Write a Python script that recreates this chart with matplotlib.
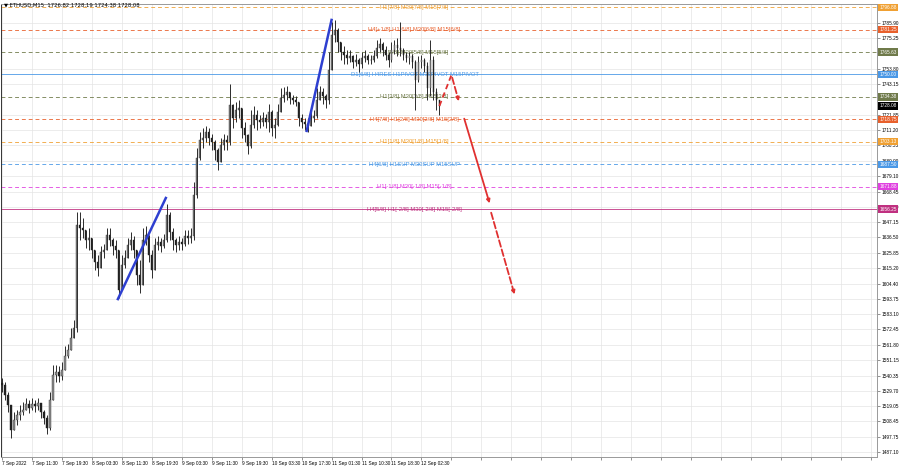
import numpy as np
import matplotlib
matplotlib.use("Agg")
import matplotlib.pyplot as plt

# ETHUSD M15 (one candle ~ 3 px of the picture)
close = [1533.7, 1526.8, 1519.8, 1502.4, 1509.4, 1512.9, 1514.9, 1516.3, 1520.5, 1517.7,
         1520.5, 1519.1, 1521.2, 1514.9, 1510.8, 1503.8, 1523.3, 1540.7, 1542.8, 1540.0,
         1544.2, 1553.9, 1558.1, 1566.5, 1573.4, 1645.2, 1643.1, 1641.7, 1634.7, 1636.1,
         1627.8, 1619.4, 1615.2, 1626.4, 1627.8, 1638.2, 1634.7, 1630.6, 1627.8, 1599.9,
         1617.3, 1622.2, 1631.3, 1634.7, 1627.8, 1610.4, 1603.4, 1634.7, 1638.2, 1624.3,
         1613.8, 1631.3, 1633.3, 1630.6, 1634.7, 1652.2, 1640.3, 1634.7, 1631.3, 1633.3,
         1632.0, 1637.5, 1636.1, 1637.5, 1666.1, 1691.9, 1704.4, 1705.8, 1710.0, 1705.8,
         1703.0, 1697.4, 1689.1, 1700.9, 1704.4, 1703.0, 1728.8, 1719.7, 1725.3, 1726.7,
         1712.7, 1707.9, 1700.2, 1714.8, 1721.8, 1718.3, 1716.9, 1719.7, 1716.9, 1723.9,
         1712.7, 1714.8, 1723.9, 1733.6, 1735.7, 1737.8, 1733.6, 1732.3, 1730.9, 1719.7,
         1716.9, 1715.5, 1714.1, 1719.7, 1721.1, 1732.3, 1737.8, 1735.0, 1732.3, 1753.1,
         1777.5, 1781.0, 1772.6, 1765.7, 1763.6, 1761.5, 1762.9, 1758.7, 1760.1, 1757.3,
         1761.5, 1762.9, 1760.1, 1760.1, 1762.9, 1768.5, 1771.3, 1767.1, 1763.6, 1760.1,
         1767.1, 1770.6, 1768.5, 1767.1, 1763.6, 1761.5, 1762.9, 1758.7, 1746.2, 1758.7,
         1760.1, 1755.9, 1740.6, 1760.1, 1737.8, 1732.3, 1728.08]
high = [1538.6, 1535.8, 1528.9, 1519.8, 1514.9, 1516.3, 1519.8, 1521.9, 1524.7, 1523.3,
        1524.7, 1523.3, 1524.7, 1520.5, 1516.3, 1512.9, 1528.9, 1547.7, 1547.7, 1547.0,
        1549.8, 1560.9, 1562.3, 1573.4, 1579.0, 1654.2, 1654.2, 1650.1, 1641.7, 1643.1,
        1634.7, 1627.8, 1624.3, 1630.6, 1632.0, 1643.1, 1643.1, 1636.1, 1634.7, 1617.3,
        1624.3, 1627.8, 1636.1, 1640.3, 1637.5, 1627.8, 1620.8, 1643.1, 1644.5, 1634.7,
        1627.8, 1636.1, 1637.5, 1636.1, 1638.9, 1659.8, 1654.2, 1643.1, 1636.1, 1637.5,
        1636.1, 1641.7, 1641.7, 1643.1, 1675.1, 1698.8, 1710.0, 1712.7, 1714.1, 1712.7,
        1708.6, 1704.4, 1698.8, 1705.8, 1708.6, 1707.9, 1743.4, 1729.5, 1730.9, 1732.3,
        1723.9, 1716.9, 1708.6, 1725.3, 1728.1, 1725.3, 1721.8, 1723.9, 1722.5, 1729.5,
        1725.3, 1719.7, 1729.5, 1740.6, 1741.3, 1742.0, 1737.8, 1735.7, 1735.0, 1730.9,
        1722.5, 1719.7, 1719.7, 1723.9, 1725.3, 1740.6, 1742.0, 1740.6, 1736.4, 1765.7,
        1786.6, 1788.0, 1782.4, 1772.6, 1769.9, 1767.1, 1767.1, 1763.6, 1764.3, 1761.5,
        1765.7, 1767.1, 1764.3, 1763.6, 1767.1, 1774.0, 1775.4, 1772.6, 1769.9, 1765.7,
        1772.6, 1774.0, 1775.4, 1786.6, 1768.5, 1765.7, 1765.7, 1764.3, 1760.1, 1762.9,
        1763.6, 1761.5, 1758.7, 1774.0, 1762.9, 1740.6, 1730.9]
low = [1528.9, 1523.3, 1514.9, 1496.8, 1503.8, 1505.9, 1509.4, 1512.9, 1516.3, 1514.2,
       1516.3, 1514.9, 1516.3, 1510.8, 1506.6, 1499.6, 1502.4, 1526.8, 1535.8, 1535.8,
       1537.2, 1545.6, 1552.6, 1559.5, 1566.5, 1570.7, 1634.7, 1636.1, 1629.2, 1627.8,
       1622.2, 1613.8, 1609.7, 1619.4, 1622.2, 1627.8, 1630.6, 1624.3, 1622.2, 1594.3,
       1599.9, 1615.2, 1622.2, 1627.8, 1622.2, 1603.4, 1597.8, 1606.9, 1631.3, 1619.4,
       1608.3, 1617.3, 1627.8, 1626.4, 1629.2, 1633.3, 1634.7, 1627.8, 1626.4, 1627.8,
       1627.8, 1630.6, 1632.0, 1632.7, 1634.7, 1664.0, 1690.5, 1698.8, 1703.0, 1700.9,
       1697.4, 1690.5, 1683.5, 1690.5, 1697.4, 1697.4, 1700.9, 1712.7, 1716.9, 1719.7,
       1705.8, 1703.0, 1694.6, 1698.8, 1712.7, 1711.4, 1712.7, 1714.1, 1712.7, 1710.0,
       1707.2, 1705.8, 1714.1, 1725.3, 1730.9, 1732.3, 1729.5, 1729.5, 1728.1, 1714.1,
       1712.7, 1711.4, 1710.0, 1715.5, 1716.9, 1719.7, 1732.3, 1729.5, 1726.7, 1729.5,
       1753.1, 1772.6, 1765.7, 1760.1, 1757.3, 1757.3, 1758.7, 1754.5, 1755.9, 1751.8,
       1754.5, 1758.7, 1757.3, 1757.3, 1758.7, 1761.5, 1765.7, 1762.9, 1760.1, 1755.2,
       1758.7, 1764.3, 1762.9, 1762.9, 1760.1, 1758.7, 1757.3, 1754.5, 1725.3, 1744.8,
       1754.5, 1751.8, 1732.3, 1735.0, 1732.3, 1725.3, 1721.8]
first_open = 1535.0

date_labels = ["7 Sep 2022", "7 Sep 11:30", "7 Sep 19:30", "8 Sep 03:30", "8 Sep 11:30",
               "8 Sep 19:30", "9 Sep 03:30", "9 Sep 11:30", "9 Sep 19:30", "10 Sep 03:30",
               "10 Sep 17:30", "11 Sep 01:30", "11 Sep 10:30", "11 Sep 18:30", "12 Sep 02:30"]

price_ticks = [1785.90, 1775.25, 1753.80, 1743.15, 1721.85, 1711.20,
               1700.55, 1689.90, 1679.10, 1668.45, 1657.80, 1647.15, 1636.50, 1625.85,
               1615.20, 1604.40, 1593.75, 1583.10, 1572.45, 1561.80, 1551.15, 1540.35,
               1529.70, 1519.05, 1508.45, 1497.75, 1487.10]

# Murrey levels
levels = [1796.88, 1781.25, 1765.63, 1750.00, 1734.38, 1718.75, 1703.13, 1687.50, 1671.88, 1656.25]
level_text = ["H1[7/8] M30[7/8] M15[7/8]",
              "H4[+1/8] H1[6/8] M30[6/8] M15[6/8]",
              "H1[5/8] M30[5/8] M15[5/8]",
              "D1[6/8] H4RES H1PIVOT M30PIVOT M15PIVOT",
              "H1[3/8] M30[3/8] M15[3/8]",
              "H4[7/8] H1[2/8] M30[2/8] M15[2/8]",
              "H1[1/8] M30[1/8] M15[1/8]",
              "H4[6/8] H1SUP M30SUP M15SUP",
              "H1[-1/8] M30[-1/8] M15[-1/8]",
              "H4[5/8] H1[-2/8] M30[-2/8] M15[-2/8]"]
level_color = ["#f0a032", "#e8602c", "#6f7a4a", "#4a98e6", "#6f7a4a",
               "#e8602c", "#f0a032", "#4a98e6", "#e040e0", "#c03080"]
level_style = ["--", "--", "--", "-", "--", "--", "--", "--", "--", "-"]

last_price = 1728.08

# drawn lines (bar index, price)
blue1 = ([38.7, 54.7], [1593.6, 1664.0])
blue2 = ([101.7, 110.0], [1710.7, 1788.0])
red_up = ([146.0, 150.0, 152.7], [1728.1, 1749.7, 1729.5])
red_solid = ([154.0, 163.0], [1721.1, 1658.4])
red_dash = ([163.0, 171.3], [1655.6, 1595.0])


def main():
    fig = plt.figure(figsize=(9, 4.68), dpi=100)
    ax = fig.add_axes([1 / 900, 11 / 468, 876 / 900, 453 / 468])
    ax.set_facecolor("white")

    c = np.array(close)
    h = np.array(high)
    l = np.array(low)
    o = np.concatenate([[first_open], c[:-1]])
    h = np.maximum(h, np.maximum(o, c))
    l = np.minimum(l, np.minimum(o, c))
    x = np.arange(len(c))

    ax.vlines(x, l, h, color="#2b2b2b", lw=0.7, zorder=4)
    up = c >= o
    ax.bar(x[up], (c - o)[up], bottom=o[up], width=0.45, color="#8c8c8c",
           edgecolor="#3a3a3a", lw=0.3, zorder=5)
    ax.bar(x[~up], (o - c)[~up], bottom=c[~up], width=0.45, color="#202020",
           edgecolor="#202020", lw=0.3, zorder=5)

    for lv, txt, col, ls in zip(levels, level_text, level_color, level_style):
        ax.axhline(lv, color=col, lw=0.7, ls=ls, dashes=(4, 3) if ls == "--" else (None, None),
                   alpha=0.85, zorder=2)
        ax.text(137.7, lv, txt, color=col, fontsize=4.2, family="Liberation Sans",
                ha="center", va="center", zorder=3)
        ax.text(1.003, lv, f"{lv:.2f}", transform=ax.get_yaxis_transform(), fontsize=3.4,
                color="white", va="center", ha="left", clip_on=False, zorder=10,
                family="Liberation Sans",
                bbox=dict(fc=col, ec="none", pad=0.8))
    ax.text(1.003, last_price, f"{last_price:.2f}", transform=ax.get_yaxis_transform(),
            fontsize=3.4, color="white", va="center", ha="left", clip_on=False, zorder=10,
            family="Liberation Sans", bbox=dict(fc="black", ec="none", pad=0.8))

    ax.plot(*blue1, color="#2e3fd0", lw=1.8, zorder=6)
    ax.plot(*blue2, color="#2e3fd0", lw=1.8, zorder=6)

    red = "#e03030"
    ax.plot(red_up[0][:2], red_up[1][:2], color=red, lw=1.3, ls="--", dashes=(3, 2), zorder=6)
    ax.annotate("", xy=(red_up[0][2], red_up[1][2]), xytext=(red_up[0][1], red_up[1][1]),
                arrowprops=dict(arrowstyle="-|>", color=red, lw=1.3, ls="--",
                                mutation_scale=5), zorder=6)
    ax.annotate("", xy=(red_solid[0][1], red_solid[1][1]), xytext=(red_solid[0][0], red_solid[1][0]),
                arrowprops=dict(arrowstyle="-|>", color=red, lw=1.3, mutation_scale=5), zorder=6)
    ax.annotate("", xy=(red_dash[0][1], red_dash[1][1]), xytext=(red_dash[0][0], red_dash[1][0]),
                arrowprops=dict(arrowstyle="-|>", color=red, lw=1.3, ls="--",
                                mutation_scale=5), zorder=6)

    ax.set_xlim(-0.3, 292.0)
    ax.set_ylim(1483.6, 1799.1)

    ticks = np.arange(0, 300, 10)
    ax.set_xticks(ticks)
    ax.set_xticklabels(date_labels + [""] * (len(ticks) - len(date_labels)),
                       ha="left", fontsize=3.4, family="Liberation Sans")
    ax.yaxis.tick_right()
    ax.set_yticks(price_ticks)
    ax.set_yticklabels([f"{p:.2f}" for p in price_ticks], fontsize=3.4, family="Liberation Sans")
    ax.tick_params(axis="x", length=2, pad=1, width=0.5, color="#666")
    ax.tick_params(axis="y", length=2, pad=1.2, width=0.5, color="#666")
    ax.grid(color="#e4e4e4", lw=0.5, zorder=0)

    for s in ax.spines.values():
        s.set_color("#999999")
        s.set_linewidth(0.7)
    ax.spines["left"].set_color("#333333")

    fig.text(4 / 900, 1 - 5 / 468, "\u25bc ETHUSD,M15  1726.82 1728.19 1724.38 1728.08",
             fontsize=3.8, family="DejaVu Sans", va="center", ha="left")

    fig.savefig("out.png", dpi=100, facecolor="white")


if __name__ == "__main__":
    main()
